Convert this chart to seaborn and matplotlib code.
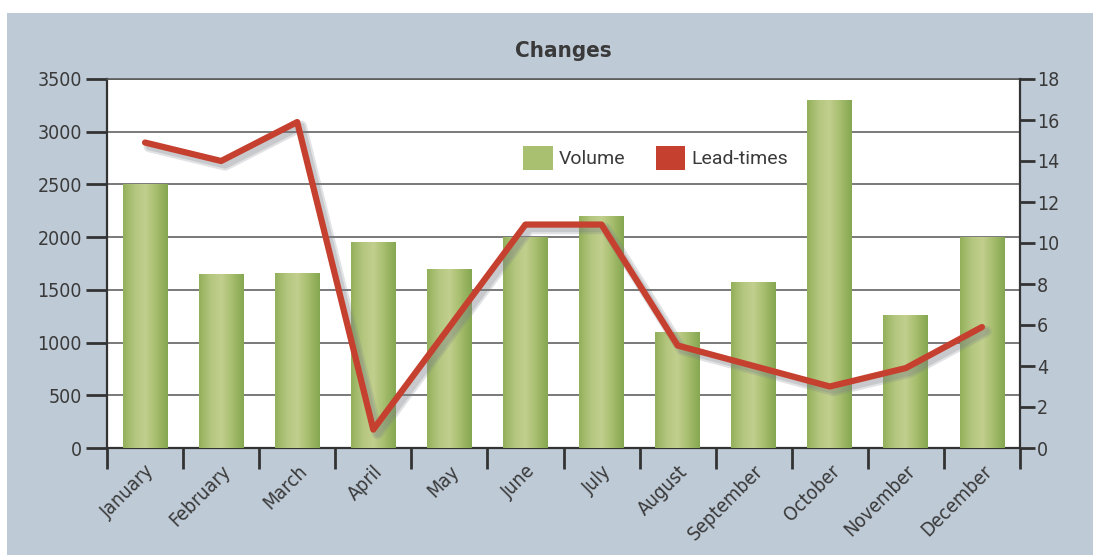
"""Changes: monthly volume (bars) against lead-times (line)."""
import matplotlib

matplotlib.use("Agg")
import matplotlib.pyplot as plt
import matplotlib.patheffects as pe
import numpy as np
import seaborn as sns
from matplotlib import font_manager
from matplotlib.colors import LinearSegmentedColormap
from matplotlib.patches import Rectangle, Patch

months = ["January", "February", "March", "April", "May", "June",
          "July", "August", "September", "October", "November", "December"]
volume = [2500, 1650, 1660, 1950, 1700, 2000, 2200, 1100, 1570, 3300, 1260, 2000]
lead_times = [14.9, 14.0, 15.9, 0.9, 5.9, 10.9, 10.9, 5.0, 4.0, 3.0, 3.9, 5.9]

BG = "#BECAD6"
RED = "#C5402F"
GREEN = "#98B361"
TEXT = "#3A3A3A"

sns.set_theme(style="white")
# a narrow face if one is around, else DejaVu condensed
names = {f.name for f in font_manager.fontManager.ttflist}
print(sorted(n for n in names if "Narrow" in n or "Condensed" in n))
narrow = [n for n in ["Liberation Sans Narrow", "DejaVu Sans Condensed"] if n in names]
plt.rcParams["font.family"] = narrow + ["DejaVu Sans"]
plt.rcParams["font.stretch"] = "condensed"

fig = plt.figure(figsize=(10.93, 5.55), dpi=100)
fig.patch.set_facecolor("white")
# grey-blue panel with a thin white margin top and left
fig.add_artist(Rectangle((7 / 1093, 0), 1, 1 - 13 / 555, transform=fig.transFigure,
                         facecolor=BG, edgecolor="none", zorder=0))

ax = fig.add_axes([107 / 1093, 1 - 448 / 555, 913 / 1093, 369 / 555])
ax.set_facecolor("white")

sns.barplot(x=months, y=volume, ax=ax, color=GREEN, width=0.59,
            saturation=1, edgecolor="none", zorder=2)

# cylinder-like horizontal gradient on each bar
grad_cmap = LinearSegmentedColormap.from_list(
    "bar", ["#93B05B", "#B3C67E", "#C2CF8E", "#A5BD6C", "#86A752"])
grad = np.linspace(0, 1, 64).reshape(1, -1)
for bar in ax.patches:
    x0, y0 = bar.get_x(), bar.get_y()
    im = ax.imshow(grad, cmap=grad_cmap, aspect="auto", zorder=3,
                   extent=[x0, x0 + bar.get_width(), y0, y0 + bar.get_height()])
    im.set_clip_path(bar)

ax.set_xlim(-0.5, 11.5)
ax.set_ylim(0, 3500)
ax.set_yticks(np.arange(0, 3501, 500))
ax.yaxis.grid(True, color="#555555", linewidth=1.1, zorder=1)
ax.set_axisbelow(True)
ax.set_xlabel("")
ax.set_ylabel("")

# x ticks: marks on category boundaries, labels under the bars
ax.set_xticks(np.arange(-0.5, 12, 1))
ax.set_xticklabels([])
ax.set_xticks(np.arange(12), minor=True)
ax.set_xticklabels(months, minor=True, rotation=45, ha="right", va="top",
                   rotation_mode="anchor", fontsize=14, color=TEXT)
ax.tick_params(axis="x", which="major", direction="out", length=15, width=2,
               color="#333333", bottom=True)
ax.tick_params(axis="x", which="minor", length=0, pad=10)
ax.tick_params(axis="y", direction="out", length=15, width=2, color="#333333",
               left=True, labelsize=14, labelcolor=TEXT, pad=3)

for side in ["left", "bottom"]:
    ax.spines[side].set_color("#333333")
    ax.spines[side].set_linewidth(1.6)
ax.spines["top"].set_color("#555555")
ax.spines["top"].set_linewidth(1.1)
ax.spines["right"].set_visible(False)

ax2 = ax.twinx()
sns.lineplot(x=months, y=lead_times, ax=ax2, color=RED, linewidth=4.5,
             sort=False, zorder=5,
             path_effects=[pe.SimpleLineShadow(offset=(3, -3), shadow_color="#7A7F88",
                                               alpha=0.22, linewidth=8),
                           pe.SimpleLineShadow(offset=(3, -3), shadow_color="#7A7F88",
                                               alpha=0.25, linewidth=5),
                           pe.Normal()])
ax2.set_ylim(0, 18)
ax2.set_yticks(np.arange(0, 19, 2))
ax2.set_ylabel("")
ax2.tick_params(axis="y", direction="out", length=11, width=2, color="#333333",
                right=True, labelsize=14, labelcolor=TEXT, pad=1)
for side in ["left", "top", "bottom"]:
    ax2.spines[side].set_visible(False)
ax2.spines["right"].set_color("#333333")
ax2.spines["right"].set_linewidth(1.6)

ax.set_title("Changes", fontsize=16, fontweight="bold", color=TEXT, pad=16)

handles = [Patch(facecolor="#A9C070", edgecolor="none", label="Volume"),
           Patch(facecolor=RED, edgecolor="none", label="Lead-times")]
leg = ax2.legend(handles=handles, loc="center left", bbox_to_anchor=(0.437, 0.786),
                 ncol=2, frameon=False, handlelength=1.5, handleheight=1.5,
                 handletextpad=0.3, columnspacing=1.6,
                 prop={"family": "Roboto", "size": 14, "stretch": "normal"})
for t in leg.get_texts():
    t.set_color(TEXT)

fig.savefig("out.png", dpi=100, facecolor=fig.get_facecolor())
